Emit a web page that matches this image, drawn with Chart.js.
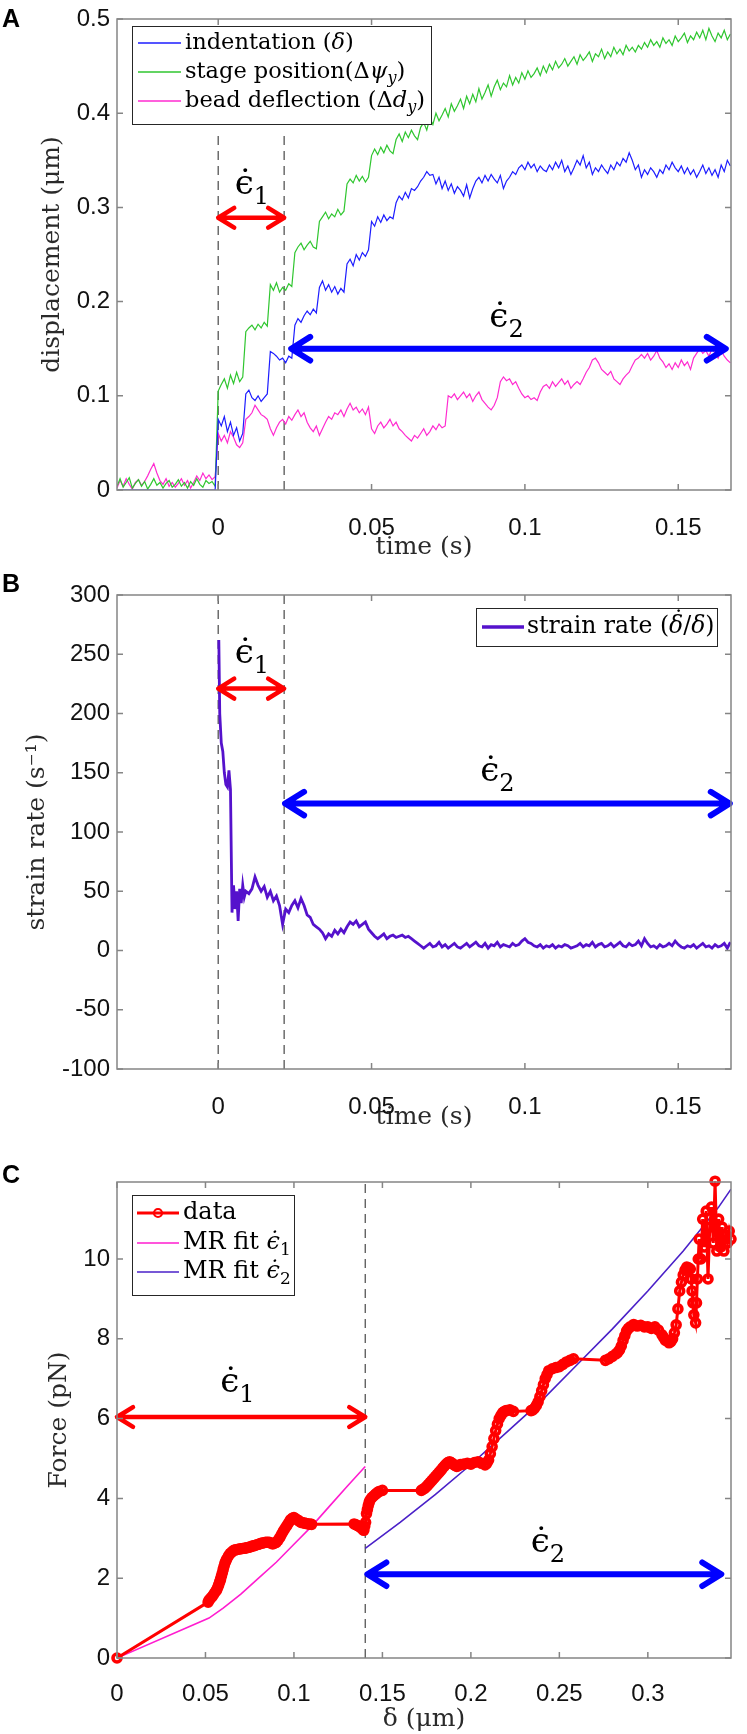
<!DOCTYPE html>
<html><head><meta charset="utf-8">
<script src="https://cdn.jsdelivr.net/npm/chart.js@4"></script>
<style>
html,body{margin:0;padding:0;background:#fff;}
body{width:747px;height:1734px;position:relative;overflow:hidden;}
canvas{position:absolute;left:0;}
</style></head><body>
<canvas id="cA" width="747" height="560" style="top:0px"></canvas>
<canvas id="cB" width="747" height="570" style="top:560px"></canvas>
<canvas id="cC" width="747" height="604" style="top:1130px"></canvas>
<script>
// ---------------- DATA ----------------
const timeA = [
-0.033,-0.032,-0.031,-0.03,-0.029,-0.028,-0.027,-0.026,-0.025,-0.024,
-0.023,-0.022,-0.021,-0.02,-0.019,-0.018,-0.017,-0.016,-0.015,-0.014,
-0.013,-0.012,-0.011,-0.01,-0.009,-0.008,-0.007,-0.006,-0.005,-0.004,
-0.003,-0.002,-0.001,0,0.001,0.002,0.003,0.004,0.005,0.006,
0.007,0.008,0.009,0.01,0.011,0.012,0.013,0.014,0.015,0.016,
0.017,0.018,0.019,0.02,0.021,0.022,0.023,0.024,0.025,0.026,
0.027,0.028,0.029,0.03,0.031,0.032,0.033,0.034,0.035,0.036,
0.037,0.038,0.039,0.04,0.041,0.042,0.043,0.044,0.045,0.046,
0.047,0.048,0.049,0.05,0.051,0.052,0.053,0.054,0.055,0.056,
0.057,0.058,0.059,0.06,0.061,0.062,0.063,0.064,0.065,0.066,
0.067,0.068,0.069,0.07,0.071,0.072,0.073,0.074,0.075,0.076,
0.077,0.078,0.079,0.08,0.081,0.082,0.083,0.084,0.085,0.086,
0.087,0.088,0.089,0.09,0.091,0.092,0.093,0.094,0.095,0.096,
0.097,0.098,0.099,0.1,0.101,0.102,0.103,0.104,0.105,0.106,
0.107,0.108,0.109,0.11,0.111,0.112,0.113,0.114,0.115,0.116,
0.117,0.118,0.119,0.12,0.121,0.122,0.123,0.124,0.125,0.126,
0.127,0.128,0.129,0.13,0.131,0.132,0.133,0.134,0.135,0.136,
0.137,0.138,0.139,0.14,0.141,0.142,0.143,0.144,0.145,0.146,
0.147,0.148,0.149,0.15,0.151,0.152,0.153,0.154,0.155,0.156,
0.157,0.158,0.159,0.16,0.161,0.162,0.163,0.164,0.165,0.166,
0.167];
const indentationA = [
0,0,0,0,0,0,0,0,0,0,
0,0,0,0,0,0,0,0,0,0,
0,0,0,0,0,0,0,0,0,0,
0,0,0,0.075,0.068,0.078,0.062,0.072,0.058,0.066,
0.052,0.06,0.102,0.106,0.098,0.095,0.1,0.094,0.098,0.102,
0.147,0.145,0.142,0.138,0.14,0.135,0.142,0.14,0.175,0.182,
0.178,0.185,0.19,0.186,0.192,0.188,0.215,0.222,0.212,0.218,
0.21,0.216,0.208,0.214,0.21,0.24,0.245,0.238,0.25,0.244,
0.252,0.248,0.255,0.285,0.28,0.29,0.284,0.292,0.286,0.29,
0.288,0.305,0.312,0.308,0.316,0.31,0.32,0.318,0.322,0.328,
0.332,0.338,0.334,0.335,0.325,0.332,0.32,0.328,0.318,0.325,
0.315,0.322,0.318,0.312,0.324,0.31,0.32,0.328,0.332,0.326,
0.334,0.328,0.335,0.33,0.326,0.334,0.32,0.328,0.332,0.338,
0.335,0.342,0.345,0.34,0.348,0.342,0.346,0.338,0.344,0.34,
0.338,0.345,0.34,0.348,0.342,0.35,0.338,0.344,0.335,0.342,
0.35,0.345,0.355,0.342,0.348,0.335,0.342,0.338,0.345,0.34,
0.336,0.345,0.34,0.348,0.344,0.352,0.348,0.358,0.35,0.34,
0.345,0.332,0.34,0.335,0.342,0.338,0.332,0.34,0.336,0.345,
0.34,0.348,0.342,0.338,0.344,0.336,0.342,0.335,0.34,0.332,
0.338,0.345,0.336,0.342,0.334,0.34,0.332,0.345,0.338,0.35,
0.344];
const stagePositionA = [
0.004,0.012,0.003,0.008,0.013,0.002,0.007,0.011,0.004,0.009,
0.001,0.006,0.012,0.005,0.008,0.002,0.007,0.010,0.003,0.006,
0.011,0.004,0.008,0.002,0.009,0.005,0.012,0.006,0.003,0.010,
0.007,0.009,0.004,0.105,0.112,0.118,0.108,0.122,0.113,0.125,
0.115,0.12,0.168,0.172,0.175,0.17,0.176,0.172,0.178,0.174,
0.218,0.212,0.22,0.21,0.215,0.212,0.219,0.216,0.252,0.258,
0.262,0.255,0.26,0.264,0.258,0.256,0.285,0.29,0.295,0.288,
0.293,0.29,0.298,0.292,0.296,0.325,0.33,0.326,0.334,0.328,
0.333,0.327,0.332,0.355,0.362,0.356,0.364,0.358,0.366,0.36,
0.357,0.372,0.378,0.37,0.38,0.374,0.382,0.376,0.372,0.385,
0.39,0.382,0.395,0.388,0.4,0.392,0.398,0.405,0.396,0.41,
0.402,0.408,0.415,0.405,0.418,0.41,0.42,0.412,0.426,0.415,
0.422,0.43,0.418,0.428,0.435,0.425,0.432,0.428,0.44,0.43,
0.438,0.432,0.443,0.436,0.445,0.438,0.442,0.448,0.44,0.45,
0.443,0.452,0.446,0.455,0.448,0.452,0.458,0.45,0.455,0.46,
0.452,0.462,0.456,0.46,0.465,0.455,0.463,0.46,0.468,0.458,
0.465,0.46,0.47,0.463,0.468,0.462,0.472,0.466,0.47,0.465,
0.472,0.468,0.475,0.47,0.478,0.472,0.476,0.47,0.48,0.474,
0.478,0.472,0.482,0.476,0.48,0.485,0.475,0.482,0.478,0.486,
0.48,0.488,0.478,0.49,0.482,0.476,0.485,0.48,0.488,0.478,
0.484];
const beadDeflectionA = [
0.002,0.01,0.004,0.012,0.006,0.001,0.008,0.011,0.005,0.009,
0.015,0.022,0.028,0.018,0.01,0.006,0.012,0.004,0.008,0.003,
0.007,0.012,0.005,0.01,0.002,0.008,0.015,0.01,0.018,0.012,
0.016,0.011,0.014,0.06,0.052,0.058,0.05,0.062,0.056,0.048,
0.045,0.05,0.075,0.078,0.082,0.09,0.085,0.08,0.078,0.075,
0.065,0.058,0.066,0.072,0.075,0.07,0.078,0.074,0.08,0.085,
0.078,0.082,0.072,0.066,0.062,0.068,0.058,0.065,0.072,0.078,
0.075,0.082,0.08,0.085,0.078,0.086,0.092,0.085,0.088,0.082,
0.086,0.08,0.088,0.065,0.06,0.068,0.072,0.066,0.07,0.075,
0.068,0.072,0.065,0.062,0.058,0.055,0.052,0.058,0.055,0.06,
0.065,0.058,0.062,0.068,0.064,0.07,0.066,0.068,0.1,0.098,
0.102,0.096,0.1,0.104,0.098,0.102,0.094,0.1,0.104,0.096,
0.092,0.088,0.085,0.09,0.098,0.115,0.12,0.116,0.118,0.112,
0.115,0.108,0.102,0.098,0.1,0.096,0.098,0.095,0.104,0.11,
0.112,0.108,0.115,0.11,0.114,0.118,0.112,0.116,0.108,0.112,
0.115,0.112,0.118,0.125,0.13,0.138,0.14,0.135,0.128,0.125,
0.122,0.126,0.118,0.115,0.112,0.118,0.122,0.125,0.132,0.138,
0.14,0.144,0.14,0.145,0.138,0.142,0.148,0.14,0.136,0.13,
0.134,0.128,0.135,0.13,0.138,0.132,0.136,0.128,0.14,0.145,
0.15,0.145,0.148,0.142,0.15,0.145,0.14,0.148,0.142,0.138,
0.135];

const timeB = [
0,0.0002,0.0005,0.001,0.0015,0.002,0.0025,0.003,0.0035,0.004,
0.0045,0.005,0.0055,0.006,0.0065,0.007,0.0075,0.008,0.0085,0.009,
0.01,0.011,0.012,0.013,0.014,0.015,0.016,0.017,0.018,0.019,
0.02,0.021,0.022,0.023,0.024,0.025,0.026,0.027,0.028,0.029,
0.03,0.031,0.032,0.033,0.034,0.035,0.036,0.037,0.038,0.039,
0.04,0.041,0.042,0.043,0.044,0.045,0.046,0.047,0.048,0.049,
0.05,0.051,0.052,0.053,0.054,0.055,0.056,0.057,0.058,0.059,
0.06,0.061,0.062,0.063,0.064,0.065,0.066,0.067,0.068,0.069,
0.07,0.071,0.072,0.073,0.074,0.075,0.076,0.077,0.078,0.079,
0.08,0.081,0.082,0.083,0.084,0.085,0.086,0.087,0.088,0.089,
0.09,0.091,0.092,0.093,0.094,0.095,0.096,0.097,0.098,0.099,
0.1,0.101,0.102,0.103,0.104,0.105,0.106,0.107,0.108,0.109,
0.11,0.111,0.112,0.113,0.114,0.115,0.116,0.117,0.118,0.119,
0.12,0.121,0.122,0.123,0.124,0.125,0.126,0.127,0.128,0.129,
0.13,0.131,0.132,0.133,0.134,0.135,0.136,0.137,0.138,0.139,
0.14,0.141,0.142,0.143,0.144,0.145,0.146,0.147,0.148,0.149,
0.15,0.151,0.152,0.153,0.154,0.155,0.156,0.157,0.158,0.159,
0.16,0.161,0.162,0.163,0.164,0.165,0.166,0.167];
const strainRateB = [
255,262,200,175,168,150,140,138,152,136,
32,55,35,50,25,52,40,55,45,50,
48,52,62,55,50,54,45,50,42,46,
38,22,35,32,38,42,36,44,38,30,
28,22,20,18,15,10,14,12,17,14,
18,15,20,24,22,25,20,22,24,18,
15,12,10,12,14,10,12,13,11,12,
13,11,12,10,8,6,4,2,4,6,
3,4,7,3,5,2,4,6,3,2,
4,6,3,5,7,4,3,6,2,5,
4,7,3,5,4,3,6,4,5,8,
10,7,6,4,3,5,2,4,3,5,
2,4,3,5,4,2,3,4,6,3,
5,4,7,3,5,6,3,4,6,3,
5,7,4,3,6,4,5,8,4,10,
6,3,4,2,5,3,4,6,4,8,
5,3,2,4,3,5,2,4,6,3,
4,2,5,3,4,6,2,7];

const deltaC = [
0,0.0515,0.052,0.053,0.054,0.055,0.056,0.0565,0.057,0.0575,
0.058,0.0585,0.059,0.0595,0.06,0.0605,0.061,0.0615,0.062,0.063,
0.064,0.065,0.066,0.067,0.068,0.069,0.07,0.071,0.072,0.073,
0.074,0.075,0.076,0.077,0.078,0.079,0.08,0.081,0.082,0.083,
0.084,0.085,0.086,0.087,0.088,0.089,0.09,0.091,0.092,0.093,
0.094,0.095,0.096,0.097,0.098,0.099,0.1,0.101,0.102,0.103,
0.104,0.105,0.106,0.107,0.108,0.109,0.11,0.134,0.135,0.136,
0.137,0.138,0.139,0.1395,0.14,0.1405,0.141,0.1415,0.142,0.1425,
0.143,0.144,0.145,0.146,0.147,0.148,0.15,0.172,0.173,0.174,
0.175,0.176,0.177,0.178,0.179,0.18,0.181,0.182,0.183,0.184,
0.185,0.186,0.187,0.188,0.189,0.19,0.191,0.192,0.193,0.194,
0.196,0.198,0.2,0.202,0.204,0.206,0.208,0.209,0.21,0.211,
0.212,0.213,0.214,0.215,0.216,0.217,0.218,0.219,0.22,0.222,
0.224,0.234,0.235,0.236,0.237,0.238,0.239,0.24,0.241,0.242,
0.243,0.244,0.246,0.248,0.25,0.252,0.254,0.256,0.258,0.276,
0.278,0.28,0.282,0.283,0.284,0.285,0.286,0.287,0.288,0.289,
0.29,0.292,0.294,0.296,0.298,0.3,0.302,0.304,0.306,0.308,
0.309,0.31,0.312,0.313,0.314,0.315,0.316,0.317,0.318,0.319,
0.32,0.321,0.322,0.323,0.324,0.3245,0.325,0.3255,0.326,0.327,
0.3275,0.328,0.3285,0.329,0.33,0.331,0.332,0.333,0.334,0.335,
0.336,0.337,0.338,0.339,0.34,0.341,0.342,0.343,0.344,0.345,
0.346,0.347];
const forceC = [
0,1.4,1.45,1.5,1.55,1.62,1.68,1.72,1.78,1.84,
1.9,1.97,2.05,2.13,2.22,2.3,2.38,2.43,2.48,2.56,
2.62,2.66,2.7,2.71,2.72,2.73,2.74,2.745,2.75,2.76,
2.77,2.78,2.8,2.81,2.82,2.84,2.85,2.87,2.88,2.89,
2.9,2.9,2.9,2.88,2.86,2.88,2.9,2.95,3.02,3.1,
3.18,3.25,3.32,3.39,3.46,3.5,3.52,3.49,3.46,3.43,
3.4,3.39,3.38,3.37,3.36,3.355,3.35,3.36,3.34,3.32,
3.29,3.26,3.22,3.2,3.3,3.4,3.62,3.72,3.82,3.9,
3.96,4.02,4.06,4.1,4.14,4.17,4.2,4.2,4.23,4.26,
4.3,4.35,4.4,4.45,4.5,4.55,4.6,4.65,4.7,4.76,
4.81,4.86,4.9,4.92,4.89,4.86,4.83,4.8,4.82,4.85,
4.86,4.88,4.86,4.9,4.92,4.88,4.84,4.88,4.96,5.12,
5.3,5.5,5.7,5.86,6.0,6.08,6.15,6.18,6.2,6.22,
6.18,6.2,6.22,6.26,6.33,6.42,6.55,6.7,6.85,7.0,
7.1,7.2,7.25,7.28,7.3,7.36,7.42,7.46,7.5,7.46,
7.5,7.56,7.62,7.66,7.72,7.82,7.96,8.08,8.2,8.26,
8.3,8.36,8.32,8.34,8.3,8.3,8.26,8.3,8.22,8.1,
8.03,7.96,7.9,7.93,8.0,8.15,8.35,8.75,9.2,9.42,
9.6,9.72,9.8,9.78,9.75,9.5,9.2,8.9,8.6,8.4,
8.9,9.5,10.0,10.5,10.0,11.0,10.3,11.2,9.5,10.8,
11.3,10.4,11.95,10.2,11.0,10.3,10.8,10.2,10.6,10.4,
10.7,10.5];
const fitEps1Delta = [0,0.052,0.06,0.07,0.08,0.09,0.1,0.11,0.12,0.13,0.1403];
const fitEps1Force = [0,1.0,1.25,1.6,2.0,2.4,2.85,3.3,3.8,4.3,4.8];
const fitEps2Delta = [0.1403,0.16,0.18,0.2,0.22,0.24,0.26,0.28,0.3,0.32,0.34,0.347];
const fitEps2Force = [2.75,3.4,4.1,4.85,5.65,6.45,7.35,8.25,9.2,10.2,11.3,11.75];

// ---------------- HELPERS ----------------
const SERIF = '"DejaVu Serif", "Liberation Serif", serif';
const SANS = '"Liberation Sans", Arial, sans-serif';
const zip = (xs, ys) => xs.map((x, i) => ({x, y: ys[i]}));
const fmt = v => String(Math.round(v * 1000) / 1000);

function fontFor(s, fs) {
  const italic = s[0] === 'i';
  const small = s.endsWith('sub') || s.endsWith('sup');
  return (italic ? 'italic ' : '') + (small ? Math.round(fs * 0.7) : fs) + 'px ' + SERIF;
}
// parts: [text, style]; style 'n','i','sub','isub','sup','dot' (dot = overdot on previous glyph)
function drawRich(ctx, parts, x, y, fs, align) {
  const fonts = parts.map(p => fontFor(p[1] === 'dot' ? 'n' : p[1], fs));
  const widths = parts.map((p, i) => { if (p[1] === 'dot') return 0; ctx.font = fonts[i]; return ctx.measureText(p[0]).width; });
  const total = widths.reduce((a, b) => a + b, 0);
  let cx = align === 'center' ? x - total / 2 : x;
  parts.forEach((p, i) => {
    ctx.font = fonts[i];
    if (p[1] === 'dot') {
      ctx.textAlign = 'center';
      const pw = widths[i - 1];
      ctx.fillText(p[0], cx - pw / 2 + fs * 0.1, y - fs * (p[2] || 0.2));
      return;
    }
    ctx.textAlign = 'left';
    const dy = p[1].endsWith('sub') ? fs * 0.3 : (p[1].endsWith('sup') ? -fs * 0.38 : 0);
    ctx.fillText(p[0], cx, y + dy);
    cx += widths[i];
  });
}
function arrow(ctx, x1, x2, y, color, lw, head) {
  ctx.save();
  ctx.strokeStyle = color; ctx.lineWidth = lw; ctx.lineCap = 'round'; ctx.lineJoin = 'round';
  ctx.beginPath();
  ctx.moveTo(x1 + 2, y); ctx.lineTo(x2 - 2, y);
  ctx.moveTo(x1 + head, y - head * 0.62); ctx.lineTo(x1, y); ctx.lineTo(x1 + head, y + head * 0.62);
  ctx.moveTo(x2 - head, y - head * 0.62); ctx.lineTo(x2, y); ctx.lineTo(x2 - head, y + head * 0.62);
  ctx.stroke();
  ctx.restore();
}

const decor = {
  id: 'decor',
  beforeDatasetsDraw(chart, args, o) {
    const ctx = chart.ctx, sx = chart.scales.x, sy = chart.scales.y;
    ctx.save();
    ctx.strokeStyle = '#555'; ctx.lineWidth = 1.3; ctx.setLineDash([9, 6]);
    (o.dashed || []).forEach(d => {
      const px = sx.getPixelForValue(d.x);
      ctx.beginPath();
      ctx.moveTo(px, sy.getPixelForValue(d.y0));
      ctx.lineTo(px, sy.getPixelForValue(d.y1));
      ctx.stroke();
    });
    ctx.restore();
  },
  afterDatasetsDraw(chart, args, o) {
    const ctx = chart.ctx, sx = chart.scales.x, sy = chart.scales.y;
    const a = chart.chartArea;
    ctx.save();
    (o.arrows || []).forEach(r => arrow(ctx, sx.getPixelForValue(r.x1), sx.getPixelForValue(r.x2), sy.getPixelForValue(r.y), r.color, r.w, r.h));
    ctx.fillStyle = '#000'; ctx.textBaseline = 'alphabetic';
    (o.labels || []).forEach(l => {
      drawRich(ctx, [['\u03F5\u0307', 'n'], [l.sub, 'sub']], sx.getPixelForValue(l.x), sy.getPixelForValue(l.y) + 9, 34, 'center');
    });
    ctx.strokeStyle = '#858585'; ctx.lineWidth = 1.5;
    ctx.strokeRect(a.left, a.top, a.right - a.left, a.bottom - a.top);
    ctx.beginPath();
    sx.ticks.forEach(t => {
      const p = sx.getPixelForValue(t.value);
      ctx.moveTo(p, a.bottom); ctx.lineTo(p, a.bottom - 6);
      ctx.moveTo(p, a.top); ctx.lineTo(p, a.top + 6);
    });
    sy.ticks.forEach(t => {
      const p = sy.getPixelForValue(t.value);
      ctx.moveTo(a.left, p); ctx.lineTo(a.left + 6, p);
      ctx.moveTo(a.right, p); ctx.lineTo(a.right - 6, p);
    });
    ctx.stroke();
    const L = o.legend;
    if (L) {
      ctx.fillStyle = '#fff'; ctx.fillRect(L.x, L.y, L.w, L.h);
      ctx.strokeStyle = '#262626'; ctx.lineWidth = 1;
      ctx.strokeRect(L.x + 0.5, L.y + 0.5, L.w, L.h);
      ctx.textBaseline = 'middle';
      L.rows.forEach(r => {
        const ds = chart.data.datasets[r.ds];
        ctx.strokeStyle = ds.borderColor; ctx.lineWidth = r.lw;
        ctx.beginPath(); ctx.moveTo(L.sx1, r.y); ctx.lineTo(L.sx2, r.y); ctx.stroke();
        if (r.marker) {
          ctx.lineWidth = 2.2;
          ctx.beginPath(); ctx.arc((L.sx1 + L.sx2) / 2, r.y, 4, 0, Math.PI * 2); ctx.stroke();
        }
        ctx.fillStyle = '#000';
        drawRich(ctx, r.parts, L.tx, r.y, L.fs, 'left');
      });
    }
    if (o.letter) {
      ctx.fillStyle = '#000'; ctx.textBaseline = 'alphabetic'; ctx.textAlign = 'left';
      ctx.font = 'bold 25px ' + SANS;
      ctx.fillText(o.letter.t, o.letter.x, o.letter.y);
    }
    ctx.restore();
  }
};

function axisCfg(opt) {
  return {
    type: 'linear', min: opt.min, max: opt.max,
    ticks: { stepSize: opt.step, includeBounds: false, autoSkip: false, maxRotation: 0,
      callback: fmt, color: '#111', padding: opt.tickPad,
      font: { family: SANS, size: 24, lineHeight: 1 } },
    grid: { display: false, drawTicks: false },
    border: { display: false },
    title: { display: true, text: opt.title, color: '#2a2a2a',
      font: { family: SERIF, size: 25 }, padding: opt.titlePad },
    afterFit: s => { if (opt.w) s.width = opt.w; if (opt.h) s.height = opt.h; }
  };
}
function makeChart(id, datasets, geom, xo, yo, decoOpts) {
  return new Chart(document.getElementById(id), {
    type: 'line',
    data: { datasets },
    options: {
      responsive: false, animation: false, devicePixelRatio: 1,
      layout: { padding: { top: geom.top, right: 16, left: 0, bottom: 0 } },
      plugins: { legend: { display: false }, tooltip: { enabled: false }, decor: decoOpts },
      elements: { line: { tension: 0 } },
      scales: { x: axisCfg(xo), y: axisCfg(yo) }
    },
    plugins: [decor]
  });
}

// ---------------- PANEL A ----------------
makeChart('cA', [
  { label: 'indentation (δ)', data: zip(timeA, indentationA), borderColor: '#1d1dff', borderWidth: 1.2, pointRadius: 0 },
  { label: 'stage position(Δψy)', data: zip(timeA, stagePositionA), borderColor: '#2fc62f', borderWidth: 1.2, pointRadius: 0 },
  { label: 'bead deflection (Δdy)', data: zip(timeA, beadDeflectionA), borderColor: '#ff2bd0', borderWidth: 1.2, pointRadius: 0 }
], { top: 13 },
  { min: -0.033, max: 0.1672, step: 0.05, title: 'time (s)', tickPad: 26, titlePad: { top: 0, bottom: -2 }, h: 70 },
  { min: 0, max: 0.5, step: 0.1, title: 'displacement (μm)', tickPad: 7, titlePad: { top: 37, bottom: 37 }, w: 117 },
  {
    letter: { t: 'A', x: 2, y: 27 },
    dashed: [{ x: 0, y0: 0, y1: 0.379 }, { x: 0.0215, y0: 0, y1: 0.379 }],
    arrows: [{ x1: 0, x2: 0.0215, y: 0.289, color: '#ff0000', w: 4.5, h: 16 },
             { x1: 0.0238, x2: 0.1655, y: 0.15, color: '#0000ff', w: 6, h: 19 }],
    labels: [{ x: 0.011, y: 0.324, sub: '1' }, { x: 0.094, y: 0.183, sub: '2' }],
    legend: { x: 132, y: 26, w: 299, h: 98, fs: 22.5, sx1: 138, sx2: 181, tx: 185,
      rows: [
        { ds: 0, y: 43, lw: 1.4, parts: [['indentation (', 'n'], ['δ', 'i'], [')', 'n']] },
        { ds: 1, y: 72, lw: 1.4, parts: [['stage position(Δ', 'n'], ['ψ', 'i'], ['y', 'isub'], [')', 'n']] },
        { ds: 2, y: 101, lw: 1.4, parts: [['bead deflection (Δ', 'n'], ['d', 'i'], ['y', 'isub'], [')', 'n']] }
      ] }
  });

// ---------------- PANEL B ----------------
makeChart('cB', [
  { label: 'strain rate (δ̇/δ)', data: zip(timeB, strainRateB), borderColor: '#5512cc', borderWidth: 2.8, pointRadius: 0 }
], { top: 35 },
  { min: -0.033, max: 0.1672, step: 0.05, title: 'time (s)', tickPad: 26, titlePad: { top: 0, bottom: -2 }, h: 61 },
  { min: -100, max: 300, step: 50, title: 'strain rate (s⁻¹)', tickPad: 7, titlePad: { top: 22, bottom: 22 }, w: 117 },
  {
    letter: { t: 'B', x: 2, y: 32 },
    dashed: [{ x: 0, y0: -100, y1: 300 }, { x: 0.0215, y0: -100, y1: 300 }],
    arrows: [{ x1: 0, x2: 0.0215, y: 221, color: '#ff0000', w: 4.5, h: 16 },
             { x1: 0.0218, x2: 0.1668, y: 124, color: '#0000ff', w: 6, h: 19 }],
    labels: [{ x: 0.011, y: 250, sub: '1' }, { x: 0.091, y: 151, sub: '2' }],
    legend: { x: 476, y: 48, w: 241, h: 38, fs: 23.5, sx1: 482, sx2: 524, tx: 527,
      rows: [
        { ds: 0, y: 67, lw: 3.5, parts: [['strain rate (', 'n'], ['δ', 'i'], ['\u02D9', 'dot', 0.22], ['/', 'n'], ['δ', 'i'], [')', 'n']] }
      ] }
  });

// ---------------- PANEL C ----------------
makeChart('cC', [
  { label: 'data', data: zip(deltaC, forceC), borderColor: '#ff0000', borderWidth: 3, pointRadius: 4,
    pointBorderWidth: 3.6, pointBorderColor: '#ff0000', pointBackgroundColor: 'rgba(0,0,0,0)', clip: false },
  { label: 'MR fit ϵ̇1', data: zip(fitEps1Delta, fitEps1Force), borderColor: '#ff1ccf', borderWidth: 1.6, pointRadius: 0 },
  { label: 'MR fit ϵ̇2', data: zip(fitEps2Delta, fitEps2Force), borderColor: '#4a20c8', borderWidth: 1.6, pointRadius: 0 }
], { top: 52 },
  { min: 0, max: 0.347, step: 0.05, title: 'δ (μm)', tickPad: 24, titlePad: { top: 0, bottom: 0 }, h: 76 },
  { min: 0, max: 11.93, step: 2, title: 'Force (pN)', tickPad: 7, titlePad: { top: 44, bottom: 44 }, w: 117 },
  {
    letter: { t: 'C', x: 2, y: 53 },
    dashed: [{ x: 0.1403, y0: 0, y1: 11.93 }],
    arrows: [{ x1: 0, x2: 0.1403, y: 6.04, color: '#ff0000', w: 4.5, h: 16 },
             { x1: 0.1415, x2: 0.3415, y: 2.1, color: '#0000ff', w: 6, h: 19 }],
    labels: [{ x: 0.068, y: 6.9, sub: '1' }, { x: 0.2435, y: 2.88, sub: '2' }],
    legend: { x: 132, y: 65, w: 162, h: 100, fs: 24, sx1: 137, sx2: 179, tx: 183,
      rows: [
        { ds: 0, y: 83, lw: 3, marker: true, parts: [['data', 'n']] },
        { ds: 1, y: 113, lw: 1.6, parts: [['MR fit ', 'n'], ['\u03F5\u0307', 'i'], ['1', 'sub']] },
        { ds: 2, y: 142, lw: 1.6, parts: [['MR fit ', 'n'], ['\u03F5\u0307', 'i'], ['2', 'sub']] }
      ] }
  });
</script>
</body></html>
